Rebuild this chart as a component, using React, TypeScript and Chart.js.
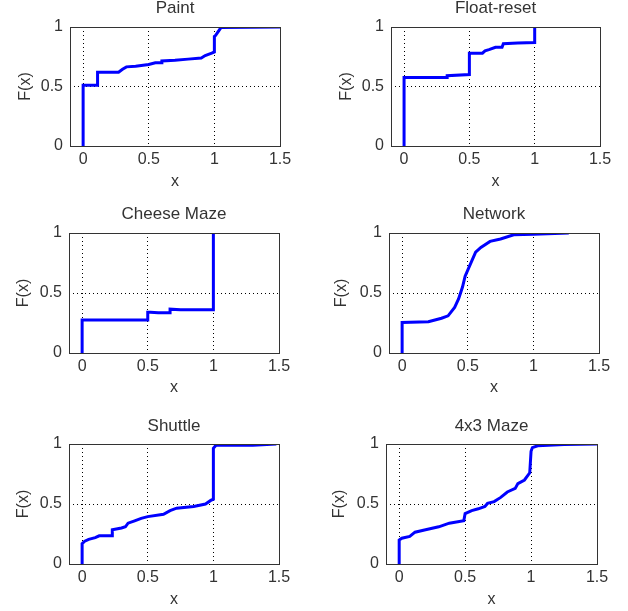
import React, { useEffect, useRef } from "react";
import { Chart, registerables } from "chart.js";

Chart.register(...registerables);

// ---- data ----
const xTicks = [0, 0.5, 1, 1.5];
const yTicks = [0, 0.5, 1];

const paintX = [0, 0, 0.11, 0.11, 0.27, 0.3, 0.33, 0.4, 0.5, 0.55, 0.6, 0.6, 0.7, 0.8, 0.9, 0.93, 0.98, 1.0, 1.0, 1.01, 1.025, 1.05, 1.5];
const paintY = [0, 0.51, 0.51, 0.62, 0.62, 0.645, 0.665, 0.67, 0.685, 0.7, 0.7, 0.715, 0.72, 0.73, 0.74, 0.76, 0.78, 0.79, 0.92, 0.93, 0.955, 0.995, 1.0];

const floatX = [0, 0, 0.33, 0.33, 0.5, 0.5, 0.6, 0.62, 0.65, 0.7, 0.75, 0.76, 0.87, 1.0, 1.0];
const floatY = [0, 0.575, 0.575, 0.59, 0.6, 0.78, 0.78, 0.8, 0.81, 0.83, 0.83, 0.86, 0.865, 0.87, 1.0];

const cheeseX = [0, 0, 0.35, 0.5, 0.5, 0.52, 0.58, 0.67, 0.67, 0.75, 1.0, 1.0];
const cheeseY = [0, 0.275, 0.275, 0.275, 0.34, 0.34, 0.335, 0.335, 0.365, 0.36, 0.36, 1.0];

const networkX = [0, 0, 0.2, 0.3, 0.35, 0.4, 0.43, 0.46, 0.48, 0.52, 0.56, 0.6, 0.67, 0.75, 0.85, 1.0, 1.27];
const networkY = [0, 0.255, 0.26, 0.29, 0.31, 0.38, 0.45, 0.55, 0.64, 0.74, 0.84, 0.88, 0.93, 0.95, 0.985, 0.99, 1.0];

const shuttleX = [0, 0, 0.02, 0.05, 0.1, 0.13, 0.23, 0.23, 0.3, 0.33, 0.35, 0.4, 0.45, 0.5, 0.62, 0.67, 0.72, 0.85, 0.94, 0.98, 1.0, 1.0, 1.02, 1.3, 1.48];
const shuttleY = [0, 0.17, 0.19, 0.205, 0.22, 0.235, 0.235, 0.285, 0.3, 0.31, 0.34, 0.36, 0.38, 0.395, 0.415, 0.445, 0.465, 0.48, 0.5, 0.53, 0.54, 0.965, 0.99, 0.99, 1.0];

const mazeX = [0, 0, 0.02, 0.08, 0.12, 0.2, 0.3, 0.38, 0.49, 0.5, 0.55, 0.6, 0.65, 0.67, 0.72, 0.77, 0.82, 0.88, 0.9, 0.95, 0.99, 1.0, 1.01, 1.05, 1.25, 1.5];
const mazeY = [0, 0.2, 0.215, 0.23, 0.265, 0.285, 0.31, 0.34, 0.36, 0.42, 0.445, 0.46, 0.48, 0.505, 0.52, 0.555, 0.6, 0.63, 0.67, 0.7, 0.76, 0.94, 0.97, 0.985, 0.995, 1.0];

const titles = ["Paint", "Float-reset", "Cheese Maze", "Network", "Shuttle", "4x3 Maze"];
const seriesX = [paintX, floatX, cheeseX, networkX, shuttleX, mazeX];
const seriesY = [paintY, floatY, cheeseY, networkY, shuttleY, mazeY];

// ---- layout (per panel) ----
const FONT = "'Liberation Sans', Arial, Helvetica, sans-serif";
const TEXT = "#333";

type Panel = {
  cx: number; cy: number; cw: number; ch: number;
  L: number; R: number; T: number; B: number; // relative to canvas
  titleCenter: number; yTitleCenter: number; xTitlePadB: number;
};

const rowY = [0, 200, 405];
const rowH = [200, 205, 206];
const rowT = [27, 33, 39];
const rowB = [146, 153, 159];
const rowTitleC = [8.5, 14, 21];
const rowXPadB = [9, 8, 2];
const colL = [[70, 77], [69, 75], [69, 72]];
const colR = [[280, 286], [279, 285], [279, 283]];
const yTitleC = [[26, 33], [24, 28], [24, 26]];

const panels: Panel[] = [];
for (let r = 0; r < 3; r++) {
  for (let c = 0; c < 2; c++) {
    panels.push({
      cx: c * 314, cy: rowY[r], cw: 314, ch: rowH[r],
      L: colL[r][c], R: colR[r][c], T: rowT[r], B: rowB[r],
      titleCenter: rowTitleC[r], yTitleCenter: yTitleC[r][c], xTitlePadB: rowXPadB[r],
    });
  }
}

const boxPlugin = {
  id: "box",
  afterDraw(chart: any) {
    const { ctx, chartArea } = chart;
    ctx.save();
    ctx.strokeStyle = "#333";
    ctx.lineWidth = 1;
    ctx.strokeRect(
      Math.round(chartArea.left) + 0.5,
      Math.round(chartArea.top) + 0.5,
      Math.round(chartArea.right - chartArea.left),
      Math.round(chartArea.bottom - chartArea.top)
    );
    ctx.restore();
  },
};

function PanelChart({ idx }: { idx: number }) {
  const ref = useRef<HTMLCanvasElement | null>(null);
  const p = panels[idx];
  useEffect(() => {
    if (!ref.current) return;
    const pts = seriesX[idx].map((x, i) => ({ x, y: seriesY[idx][i] }));
    const titleSize = 17;
    const padTop = Math.max(0, p.titleCenter - titleSize / 2);
    const chart = new Chart(ref.current, {
      type: "line",
      data: {
        datasets: [
          {
            data: pts,
            borderColor: "#0000FF",
            borderWidth: 3,
            pointRadius: 0,
            tension: 0,
            fill: false,
          },
        ],
      },
      plugins: [boxPlugin],
      options: {
        animation: false,
        responsive: false,
        events: [],
        layout: { padding: { left: 0, top: 0, right: p.cw - p.R, bottom: 0 } },
        plugins: {
          legend: { display: false },
          tooltip: { enabled: false },
          title: {
            display: true,
            fullSize: false,
            text: titles[idx],
            color: TEXT,
            font: { family: FONT, size: titleSize, weight: "normal", lineHeight: 1 },
            padding: { top: padTop, bottom: p.T - padTop - titleSize },
          },
        },
        scales: {
          x: {
            type: "linear",
            min: -0.1,
            max: 1.5,
            afterBuildTicks: (s: any) => {
              s.ticks = xTicks.map((v) => ({ value: v }));
            },
            afterFit: (s: any) => {
              s.height = p.ch - p.B;
            },
            ticks: {
              color: TEXT,
              font: { family: FONT, size: 16 },
              padding: 4,
              maxRotation: 0,
              callback: (v: any) => String(v),
            },
            grid: { color: "#000", lineWidth: 1, drawTicks: false },
            border: { display: false, dash: [1, 3] },
            title: {
              display: true,
              text: "x",
              color: TEXT,
              font: { family: FONT, size: 16 },
              padding: { top: 4, bottom: p.xTitlePadB },
            },
          },
          y: {
            type: "linear",
            min: 0,
            max: 1,
            afterBuildTicks: (s: any) => {
              s.ticks = yTicks.map((v) => ({ value: v }));
            },
            afterFit: (s: any) => {
              s.width = p.L;
            },
            ticks: {
              color: TEXT,
              font: { family: FONT, size: 16 },
              padding: 7,
              callback: (v: any) => String(v),
            },
            grid: { color: "#000", lineWidth: 1, drawTicks: false },
            border: { display: false, dash: [1, 3] },
            title: {
              display: true,
              text: "F(x)",
              color: TEXT,
              font: { family: FONT, size: 16 },
              padding: { top: p.yTitleCenter - 9.6, bottom: 0 },
            },
          },
        },
      },
    } as any);
    return () => chart.destroy();
  }, [idx]);
  return (
    <canvas
      ref={ref}
      width={p.cw}
      height={p.ch}
      style={{ position: "absolute", left: p.cx, top: p.cy, width: p.cw, height: p.ch, display: "block" }}
    />
  );
}

export default function App() {
  return (
    <div style={{ position: "absolute", left: 0, top: 0, width: 628, height: 611, background: "#fff" }}>
      {panels.map((_, i) => (
        <PanelChart key={i} idx={i} />
      ))}
    </div>
  );
}
